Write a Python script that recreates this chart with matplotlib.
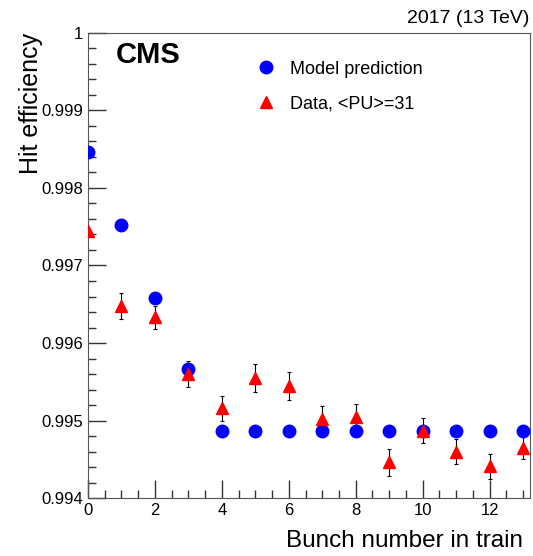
import matplotlib
matplotlib.use("Agg")
import matplotlib.pyplot as plt
from matplotlib.ticker import MultipleLocator

plt.rcParams["font.family"] = ["Liberation Sans", "DejaVu Sans"]

bunch = list(range(14))
model_eff = [0.99846, 0.99752, 0.99658, 0.99566, 0.99486, 0.99486, 0.99486,
             0.99486, 0.99486, 0.99486, 0.99486, 0.99486, 0.99486, 0.99486]
data_eff = [0.99744, 0.99648, 0.99633, 0.99560, 0.99516, 0.99555, 0.99545,
            0.99502, 0.99505, 0.99446, 0.99487, 0.99460, 0.99441, 0.99465]
data_err = [0.0, 0.00017, 0.00015, 0.00017, 0.00016, 0.00018, 0.00018,
            0.00017, 0.00017, 0.00017, 0.00016, 0.00016, 0.00016, 0.00015]

fig = plt.figure(figsize=(5.33, 5.56), dpi=100)
ax = fig.add_axes([0.165, 0.104, 0.829, 0.837])

ax.errorbar(bunch, data_eff, yerr=data_err, fmt="none", ecolor="black",
            elinewidth=0.8, capsize=1.5, capthick=0.8, zorder=2)
ax.plot(bunch, model_eff, "o", color="#0000ff", markersize=9, zorder=3,
        label="Model prediction")
ax.plot(bunch, data_eff, "^", color="#ff0000", markersize=9, zorder=4,
        label="Data, <PU>=31")

ax.set_xlim(0, 13.2)
ax.set_ylim(0.994, 1.0)
ax.xaxis.set_major_locator(MultipleLocator(2))
ax.xaxis.set_minor_locator(MultipleLocator(0.5))
ax.yaxis.set_major_locator(MultipleLocator(0.001))
ax.yaxis.set_minor_locator(MultipleLocator(0.0002))
ax.yaxis.set_major_formatter(plt.FuncFormatter(lambda v, p: f"{v:.3f}".rstrip("0").rstrip(".")))
ax.tick_params(which="both", direction="in", top=False, right=False,
               labelsize=12, colors="#333333", labelcolor="black")
ax.tick_params(which="major", length=13, width=1)
ax.tick_params(which="minor", length=6, width=1)
for s in ax.spines.values():
    s.set_color("#555555")

ax.legend(loc="upper left", bbox_to_anchor=(0.342, 0.975), frameon=False,
          fontsize=13, handletextpad=0.7, labelspacing=1.0, handlelength=1.2)

fig.text(0.058, 0.94, "Hit efficiency", rotation=90, ha="center", va="top", fontsize=18)
fig.text(0.982, 0.008, "Bunch number in train", ha="right", va="bottom", fontsize=17.5)
fig.text(0.218, 0.901, "CMS", fontsize=21, fontweight="bold", ha="left", va="center")
fig.text(0.994, 0.952, "2017 (13 TeV)", ha="right", va="bottom", fontsize=14)

fig.savefig("out.png", dpi=100)
